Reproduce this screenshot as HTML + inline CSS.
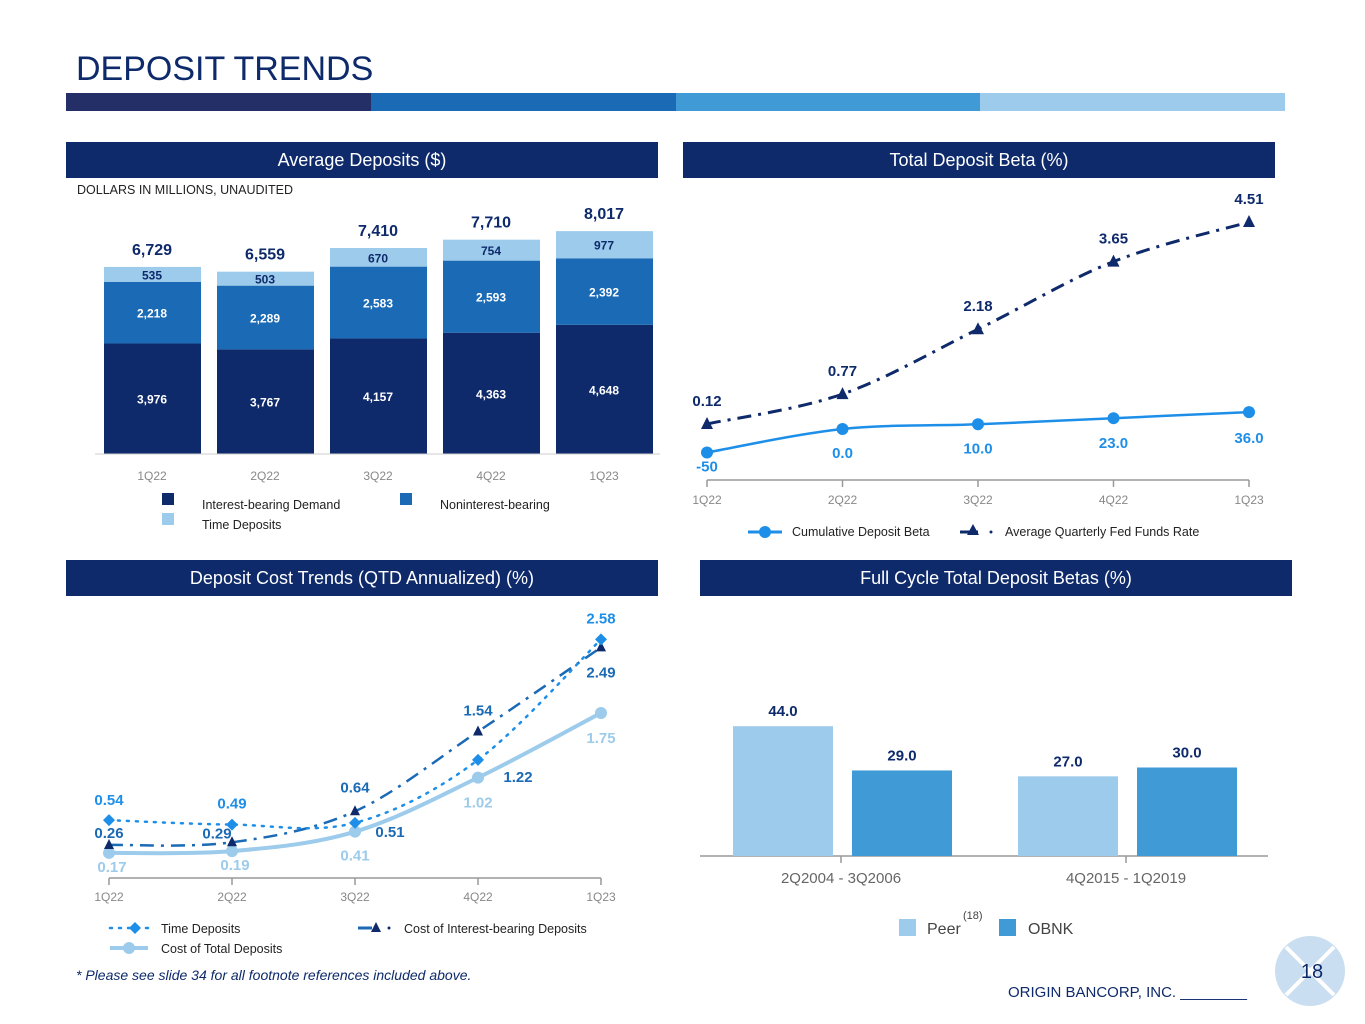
<!DOCTYPE html>
<html><head><meta charset="utf-8">
<style>
body{margin:0;width:1365px;height:1024px;background:#fff;font-family:"Liberation Sans",Arial,sans-serif;overflow:hidden;position:relative}
.hdr{position:absolute;background:#0e2a6b;color:#fff;font-size:18px;text-align:center;line-height:36px;height:36px}
</style></head><body>
<div style="position:absolute;left:76px;top:50px;font-size:34px;color:#0e2a6b">DEPOSIT TRENDS</div>
<div style="position:absolute;left:66px;top:93px;height:18px;width:1219px;display:flex">
<div style="flex:1;background:#232f66"></div><div style="flex:1;background:#1a6ab5"></div><div style="flex:1;background:#3f9ad6"></div><div style="flex:1;background:#9dcbeb"></div></div>
<div class="hdr" style="left:66px;top:142px;width:592px">Average Deposits ($)</div>
<div class="hdr" style="left:683px;top:142px;width:592px">Total Deposit Beta (%)</div>
<div class="hdr" style="left:66px;top:560px;width:592px">Deposit Cost Trends (QTD Annualized) (%)</div>
<div class="hdr" style="left:700px;top:560px;width:592px">Full Cycle Total Deposit Betas (%)</div>
<div style="position:absolute;left:77px;top:183px;font-size:12.5px;color:#222">DOLLARS IN MILLIONS, UNAUDITED</div>
<div style="position:absolute;left:76px;top:967px;font-size:14px;font-style:italic;color:#0e2a6b">* Please see slide 34 for all footnote references included above.</div>
<div style="position:absolute;left:1008px;top:984px;font-size:15px;color:#0e2a6b">ORIGIN BANCORP, INC. ________</div>
<svg style="position:absolute;left:1274px;top:935px" width="72" height="72">
<circle cx="36" cy="36" r="35" fill="#c9def0"/><line x1="12" y1="12" x2="60" y2="60" stroke="#fff" stroke-width="4"/><line x1="60" y1="12" x2="12" y2="60" stroke="#fff" stroke-width="4"/>
<text x="38" y="43" font-size="20" text-anchor="middle" fill="#0e2a6b" font-family="Liberation Sans">18</text></svg>
<svg id="chart" style="position:absolute;left:0;top:0" width="1365" height="1024" font-family="Liberation Sans, Arial, sans-serif"></svg>
<script>
const quarters=["1Q22","2Q22","3Q22","4Q22","1Q23"];
const interestBearing=[3976,3767,4157,4363,4648];
const nonInterest=[2218,2289,2583,2593,2392];
const timeDep=[535,503,670,754,977];
const totals=["6,729","6,559","7,410","7,710","8,017"];
const betaVals=[-50,0,10,23,36];
const betaLabels=["-50","0.0","10.0","23.0","36.0"];
const fedVals=[0.12,0.77,2.18,3.65,4.51];
const timeCost=[0.54,0.49,0.51,1.22,2.58];
const ibCost=[0.26,0.29,0.64,1.54,2.49];
const totalCost=[0.17,0.19,0.41,1.02,1.75];
const cycleCats=["2Q2004 - 3Q2006","4Q2015 - 1Q2019"];
const peerVals=[44.0,27.0];
const obnkVals=[29.0,30.0];

const svg=document.getElementById('chart');
const NS='http://www.w3.org/2000/svg';
function mk(tag,at,txt){const e=document.createElementNS(NS,tag);for(const k in at)e.setAttribute(k,at[k]);if(txt!==undefined)e.textContent=txt;svg.appendChild(e);return e;}
const fmt=n=>n.toLocaleString('en-US');
const dark="#0e2a6b",mid="#1a6ab5",light="#9dcbeb",bright="#1e8fe8";
function smooth(pts){let d='M'+pts[0][0]+','+pts[0][1];
 for(let i=0;i<pts.length-1;i++){const p0=pts[i-1]||pts[i],p1=pts[i],p2=pts[i+1],p3=pts[i+2]||p2;
  const c1=[p1[0]+(p2[0]-p0[0])/6,p1[1]+(p2[1]-p0[1])/6],c2=[p2[0]-(p3[0]-p1[0])/6,p2[1]-(p3[1]-p1[1])/6];
  d+=` C${c1[0]},${c1[1]} ${c2[0]},${c2[1]} ${p2[0]},${p2[1]}`;}return d;}

// Average deposits
const bx=i=>152+i*113, by=v=>454-v*0.0278;
quarters.forEach((q,i)=>{
 const x=bx(i)-48;
 let b=mk('rect',{x:x,y:by(interestBearing[i]),width:97,height:454-by(interestBearing[i]),fill:dark});
 
 const t2=interestBearing[i]+nonInterest[i];
 b=mk('rect',{x:x,y:by(t2),width:97,height:by(interestBearing[i])-by(t2),fill:mid});
 
 const t3=t2+timeDep[i];
 b=mk('rect',{x:x,y:by(t3),width:97,height:by(t2)-by(t3),fill:light});
 
 mk('text',{x:bx(i),y:(454+by(interestBearing[i]))/2+5,'text-anchor':'middle','font-size':12,'font-weight':'bold',fill:'#fff'},fmt(interestBearing[i]));
 mk('text',{x:bx(i),y:(by(t2)+by(interestBearing[i]))/2+5,'text-anchor':'middle','font-size':12,'font-weight':'bold',fill:'#fff'},fmt(nonInterest[i]));
 mk('text',{x:bx(i),y:(by(t2)+by(t3))/2+5,'text-anchor':'middle','font-size':12,'font-weight':'bold',fill:dark},fmt(timeDep[i]));
 mk('text',{x:bx(i),y:by(t3)-12,'text-anchor':'middle','font-size':16,'font-weight':'bold',fill:dark},totals[i]);
 mk('text',{x:bx(i),y:480,'text-anchor':'middle','font-size':12,fill:'#888'},q);
});
mk('line',{x1:95,y1:454,x2:660,y2:454,stroke:'#ccc'});
[[162,505,dark,"Interest-bearing Demand"],[400,505,mid,"Noninterest-bearing"],[162,525,light,"Time Deposits"]].forEach(l=>{
 mk('rect',{x:l[0],y:l[1]-12,width:12,height:12,fill:l[2]});
 mk('text',{x:l[0]+40,y:l[1]+4,'font-size':12.5,fill:'#222'},l[3]);
});

// Deposit beta
const rx=i=>707+i*135.5, byb=v=>429-v*0.47, byf=v=>429.5-v*46;
mk('line',{x1:707,y1:480,x2:1249,y2:480,stroke:'#999','stroke-width':1.5});
quarters.forEach((q,i)=>{mk('line',{x1:rx(i),y1:480,x2:rx(i),y2:487,stroke:'#999','stroke-width':1.5});
 mk('text',{x:rx(i),y:504,'text-anchor':'middle','font-size':12,fill:'#888'},q);});
mk('path',{d:smooth(fedVals.map((v,i)=>[rx(i),byf(v)])),fill:'none',stroke:dark,'stroke-width':3,'stroke-dasharray':'14 7 3 7'});
mk('path',{d:smooth(betaVals.map((v,i)=>[rx(i),byb(v)])),fill:'none',stroke:bright,'stroke-width':2.5});
fedVals.forEach((v,i)=>{const x=rx(i),y=byf(v);
 const p=mk('polygon',{points:`${x},${y-7} ${x-6},${y+5} ${x+6},${y+5}`,fill:dark});
 
 mk('text',{x:x,y:y-18,'text-anchor':'middle','font-size':15,'font-weight':'bold',fill:dark},v.toFixed(2));});
betaVals.forEach((v,i)=>{const x=rx(i),y=byb(v);
 const c=mk('circle',{cx:x,cy:y,r:6,fill:bright});
 
 mk('text',{x:x,y:y+(i==0?19:i==4?31:i==3?30:29),'text-anchor':'middle','font-size':15,'font-weight':'bold',fill:bright},betaLabels[i]);});
mk('line',{x1:748,y1:532,x2:782,y2:532,stroke:bright,'stroke-width':3});mk('circle',{cx:765,cy:532,r:6,fill:bright});
mk('text',{x:792,y:536,'font-size':12.5,fill:'#222'},"Cumulative Deposit Beta");
mk('line',{x1:960,y1:532,x2:978,y2:532,stroke:dark,'stroke-width':3});mk('polygon',{points:'973,524 967,535 979,535',fill:dark});mk('circle',{cx:991,cy:532,r:1.5,fill:dark});
mk('text',{x:1005,y:536,'font-size':12.5,fill:'#222'},"Average Quarterly Fed Funds Rate");

// Deposit cost
const cx=i=>109+i*123, cy=v=>868-v*88.6;
mk('line',{x1:109,y1:878,x2:601,y2:878,stroke:'#999','stroke-width':1.5});
quarters.forEach((q,i)=>{mk('line',{x1:cx(i),y1:878,x2:cx(i),y2:885,stroke:'#999','stroke-width':1.5});
 mk('text',{x:cx(i),y:901,'text-anchor':'middle','font-size':12,fill:'#888'},q);});
const pts=a=>a.map((v,i)=>[cx(i),cy(v)]);
mk('path',{d:smooth(pts(totalCost)),fill:'none',stroke:light,'stroke-width':4});
mk('path',{d:smooth(pts(ibCost)),fill:'none',stroke:mid,'stroke-width':2.5,'stroke-dasharray':'14 7 3 7'});
mk('path',{d:smooth(pts(timeCost)),fill:'none',stroke:bright,'stroke-width':2.5,'stroke-dasharray':'2 7','stroke-linecap':'round'});
totalCost.forEach((v,i)=>{const c=mk('circle',{cx:cx(i),cy:cy(v),r:6,fill:light});
 mk('text',{x:cx(i)+(i<2?3:0),y:cy(v)+(i==4?30:i==3?30:i==2?29:19),'text-anchor':'middle','font-size':15,'font-weight':'bold',fill:light},v.toFixed(2));});
ibCost.forEach((v,i)=>{const x=cx(i),y=cy(v);const p=mk('polygon',{points:`${x},${y-6} ${x-5},${y+4} ${x+5},${y+4}`,fill:dark});
 const off=[[0,-7],[-15,-4],[0,-19],[0,-16],[0,30]][i];
 mk('text',{x:x+off[0],y:y+off[1],'text-anchor':'middle','font-size':15,'font-weight':'bold',fill:mid},v.toFixed(2));});
timeCost.forEach((v,i)=>{const x=cx(i),y=cy(v);const p=mk('polygon',{points:`${x},${y-6} ${x+6},${y} ${x},${y+6} ${x-6},${y}`,fill:bright});
 const off=[[0,-15],[0,-16],[35,14],[40,22],[0,-16]][i];
 mk('text',{x:x+off[0],y:y+off[1],'text-anchor':'middle','font-size':15,'font-weight':'bold',fill:i==2||i==3?mid:bright},v.toFixed(2));});
mk('line',{x1:110,y1:928,x2:148,y2:928,stroke:bright,'stroke-width':2.5,'stroke-dasharray':'2 7','stroke-linecap':'round'});mk('polygon',{points:'135,922 141,928 135,934 129,928',fill:bright});
mk('text',{x:161,y:933,'font-size':12.5,fill:'#222'},"Time Deposits");
mk('line',{x1:358,y1:928,x2:372,y2:928,stroke:mid,'stroke-width':3});mk('polygon',{points:'376,922 371,932 381,932',fill:dark});mk('circle',{cx:389,cy:928,r:1.5,fill:dark});
mk('text',{x:404,y:933,'font-size':12.5,fill:'#222'},"Cost of Interest-bearing Deposits");
mk('line',{x1:110,y1:948,x2:148,y2:948,stroke:light,'stroke-width':4});mk('circle',{cx:129,cy:948,r:6,fill:light});
mk('text',{x:161,y:953,'font-size':12.5,fill:'#222'},"Cost of Total Deposits");

// Full cycle
const gx=i=>841+i*285, fy=v=>856-v*2.95;
mk('line',{x1:700,y1:856,x2:1268,y2:856,stroke:'#999','stroke-width':1.5});
cycleCats.forEach((c,i)=>{
 mk('line',{x1:gx(i),y1:856,x2:gx(i),y2:863,stroke:'#999','stroke-width':1.5});
 let b=mk('rect',{x:gx(i)-108,y:fy(peerVals[i]),width:100,height:856-fy(peerVals[i]),fill:light});
 b=mk('rect',{x:gx(i)+11,y:fy(obnkVals[i]),width:100,height:856-fy(obnkVals[i]),fill:'#3f9ad6'});
 mk('text',{x:gx(i)-58,y:fy(peerVals[i])-10,'text-anchor':'middle','font-size':15,'font-weight':'bold',fill:dark},peerVals[i].toFixed(1));
 mk('text',{x:gx(i)+61,y:fy(obnkVals[i])-10,'text-anchor':'middle','font-size':15,'font-weight':'bold',fill:dark},obnkVals[i].toFixed(1));
 mk('text',{x:gx(i),y:883,'text-anchor':'middle','font-size':15,fill:'#666'},c);
});
mk('rect',{x:899,y:919,width:17,height:17,fill:light});mk('text',{x:927,y:934,'font-size':16,fill:'#444'},"Peer");
mk('text',{x:963,y:919,'font-size':11,fill:'#444'},"(18)");
mk('rect',{x:999,y:919,width:17,height:17,fill:'#3f9ad6'});mk('text',{x:1028,y:934,'font-size':16,fill:'#444'},"OBNK");
</script>
</body></html>
